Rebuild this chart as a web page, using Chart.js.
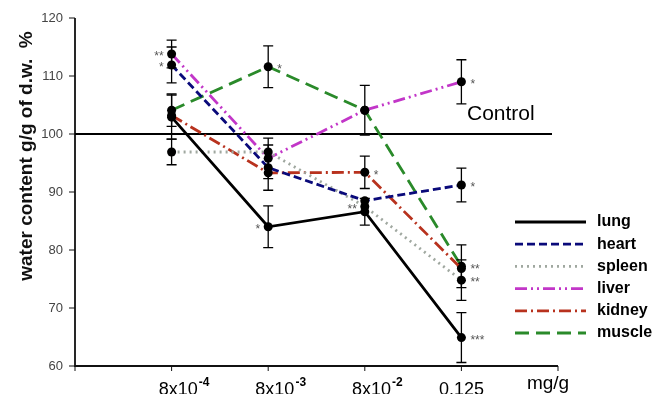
<!DOCTYPE html>
<html><head><meta charset="utf-8">
<script src="https://cdn.jsdelivr.net/npm/chart.js@4/dist/chart.umd.min.js"></script>
<style>html,body{margin:0;padding:0;background:#fff}</style>
</head><body>
<canvas id="c" width="662" height="394"></canvas>
<script>
// ---- data ----
const DOSE_BASE = ['8x10', '8x10', '8x10', '0.125'];
const DOSE_EXP  = ['-4', '-3', '-2', ''];
const UNIT = 'mg/g';
const Y_TICKS = [60, 70, 80, 90, 100, 110, 120];
const CONTROL = 100;
const CONTROL_LABEL = 'Control';
const Y_TITLE = 'water content g/g of d.w.  %';

const SERIES = ['lung', 'heart', 'spleen', 'liver', 'kidney', 'muscle'];
const lung   = [102.9, 84.0, 86.6, 64.9];
const heart  = [111.9, 94.2, 88.5, 91.2];
const spleen = [96.9, 96.9, 87.5, 74.8];
const liver  = [113.8, 95.8, 104.1, 109.0];
const kidney = [103.2, 93.3, 93.4, 76.8];
const muscle = [104.1, 111.6, 104.1, 77.2];

const lungErr   = [3.8, 3.6, 2.3, 4.3];
const heartErr  = [3.1, 3.9, null, 2.9];
const spleenErr = [2.2, null, null, 3.5];
const liverErr  = [2.4, 3.5, 4.3, 3.8];
const kidneyErr = [null, null, 2.8, null];
const muscleErr = [2.8, 3.6, null, 3.7];

// significance marks: [series, dose index, text, side]
const STARS = [
  ['liver', 0, '**', 'L'], ['heart', 0, '*', 'L'],
  ['muscle', 1, '*', 'R'], ['lung', 1, '*', 'L'],
  ['kidney', 2, '*', 'R'], ['spleen', 2, '**', 'L'],
  ['liver', 3, '*', 'R'], ['heart', 3, '*', 'R'],
  ['muscle', 3, '**', 'R'], ['spleen', 3, '**', 'R'], ['lung', 3, '***', 'R']
];

const VALUES = {lung, heart, spleen, liver, kidney, muscle};
const ERRORS = {lung: lungErr, heart: heartErr, spleen: spleenErr, liver: liverErr, kidney: kidneyErr, muscle: muscleErr};

// ---- styles ----
const STYLE = {
  lung:   {color: '#000000', dash: [], width: 2.8},
  heart:  {color: '#0a0a7a', dash: [8, 4], width: 2.8},
  spleen: {color: '#a0a8a0', dash: [2, 4], width: 2.8},
  liver:  {color: '#c236c8', dash: [12, 4, 2, 4, 2, 4], width: 2.8},
  kidney: {color: '#b8321e', dash: [12, 4, 2, 4], width: 2.8},
  muscle: {color: '#2a8a2a', dash: [14, 7], width: 2.8}
};

const labels = ['', ...DOSE_BASE.map((b, i) => b + DOSE_EXP[i]), UNIT];

const datasets = SERIES.map(name => ({
  label: name,
  data: [null, ...VALUES[name], null],
  borderColor: STYLE[name].color,
  borderDash: STYLE[name].dash,
  borderWidth: STYLE[name].width,
  pointRadius: 4.5,
  pointBackgroundColor: '#000',
  pointBorderColor: '#000',
  pointBorderWidth: 0,
  tension: 0,
  fill: false
}));

const FONT = '"Liberation Sans", Arial, sans-serif';

const deco = {
  id: 'deco',
  beforeDatasetsDraw(chart) {
    const {ctx, chartArea: a, scales: {x, y}} = chart;
    ctx.save();
    // axes
    ctx.strokeStyle = '#111';
    ctx.lineWidth = 1.8;
    ctx.beginPath();
    ctx.moveTo(a.left, a.top); ctx.lineTo(a.left, a.bottom); ctx.lineTo(a.right, a.bottom);
    ctx.stroke();
    // y ticks + labels
    ctx.lineWidth = 1;
    ctx.fillStyle = '#444';
    ctx.font = '13px ' + FONT;
    ctx.textAlign = 'right';
    ctx.textBaseline = 'middle';
    Y_TICKS.forEach(v => {
      const py = y.getPixelForValue(v);
      ctx.beginPath(); ctx.moveTo(a.left - 6, py); ctx.lineTo(a.left, py); ctx.stroke();
      ctx.fillText(String(v), a.left - 12, py);
    });
    // x ticks
    for (let i = 0; i < labels.length; i++) {
      const px = x.getPixelForValue(i);
      ctx.beginPath(); ctx.moveTo(px, a.bottom); ctx.lineTo(px, a.bottom + 5); ctx.stroke();
    }
    // x labels
    ctx.fillStyle = '#000';
    ctx.textBaseline = 'alphabetic';
    DOSE_BASE.forEach((b, i) => {
      const px = x.getPixelForValue(i + 1);
      const e = DOSE_EXP[i];
      ctx.font = '18px ' + FONT;
      const bw = ctx.measureText(b).width;
      ctx.font = 'bold 12px ' + FONT;
      const ew = e ? ctx.measureText(e).width : 0;
      const start = e ? px + 12 - (bw + ew) / 2 : px - bw / 2;
      ctx.textAlign = 'left';
      ctx.font = '18px ' + FONT;
      ctx.fillText(b, start, a.bottom + 29);
      if (e) { ctx.font = 'bold 12px ' + FONT; ctx.fillText(e, start + bw + 1, a.bottom + 20); }
    });
    ctx.font = '19px ' + FONT;
    ctx.textAlign = 'center';
    ctx.fillText(UNIT, x.getPixelForValue(labels.length - 1) - 10, a.bottom + 23);
    // control line
    const cy = y.getPixelForValue(CONTROL);
    ctx.strokeStyle = '#000';
    ctx.lineWidth = 2;
    ctx.beginPath(); ctx.moveTo(a.left, cy); ctx.lineTo(a.right - 6, cy); ctx.stroke();
    ctx.font = '21px ' + FONT;
    ctx.textAlign = 'left';
    ctx.fillText(CONTROL_LABEL, 467, cy - 14);
    // y title
    ctx.save();
    ctx.translate(27, 156);
    ctx.rotate(-Math.PI / 2);
    ctx.font = 'bold 19px ' + FONT;
    ctx.textAlign = 'center';
    ctx.textBaseline = 'middle';
    ctx.fillStyle = '#111';
    ctx.fillText(Y_TITLE, 0, 0);
    ctx.restore();
    ctx.restore();
  },
  afterDatasetsDraw(chart) {
    const {ctx, scales: {x, y}} = chart;
    ctx.save();
    // error bars
    ctx.strokeStyle = '#000';
    ctx.lineWidth = 1.3;
    SERIES.forEach(name => {
      ERRORS[name].forEach((err, i) => {
        if (err == null) return;
        const v = VALUES[name][i];
        const px = x.getPixelForValue(i + 1);
        const t = y.getPixelForValue(v + err), b = y.getPixelForValue(v - err);
        ctx.beginPath();
        ctx.moveTo(px, t); ctx.lineTo(px, b);
        ctx.moveTo(px - 5, t); ctx.lineTo(px + 5, t);
        ctx.moveTo(px - 5, b); ctx.lineTo(px + 5, b);
        ctx.stroke();
      });
    });
    // stars
    ctx.fillStyle = '#555';
    ctx.font = '12px ' + FONT;
    ctx.textBaseline = 'middle';
    STARS.forEach(([name, i, txt, side]) => {
      const px = x.getPixelForValue(i + 1);
      const py = y.getPixelForValue(VALUES[name][i]) + 3;
      if (side === 'L') { ctx.textAlign = 'right'; ctx.fillText(txt, px - 8, py); }
      else { ctx.textAlign = 'left'; ctx.fillText(txt, px + 9, py); }
    });
    // legend
    ctx.textAlign = 'left';
    ctx.textBaseline = 'middle';
    ctx.font = 'bold 16px ' + FONT;
    SERIES.forEach((name, k) => {
      const ly = 222 + k * 22.2;
      const s = STYLE[name];
      ctx.strokeStyle = s.color;
      ctx.lineWidth = 2.8;
      ctx.setLineDash(s.dash);
      ctx.beginPath(); ctx.moveTo(515, ly); ctx.lineTo(586, ly); ctx.stroke();
      ctx.setLineDash([]);
      ctx.fillStyle = '#000';
      ctx.fillText(name, 597, ly);
    });
    ctx.restore();
  }
};

new Chart(document.getElementById('c'), {
  type: 'line',
  data: {labels, datasets},
  options: {
    responsive: false,
    animation: false,
    devicePixelRatio: 1,
    layout: {padding: {left: 75, right: 104, top: 18, bottom: 28}},
    plugins: {legend: {display: false}, tooltip: {enabled: false}},
    scales: {
      x: {type: 'category', display: false, offset: false},
      y: {type: 'linear', display: false, min: 60, max: 120}
    }
  },
  plugins: [deco]
});
</script>
</body></html>
